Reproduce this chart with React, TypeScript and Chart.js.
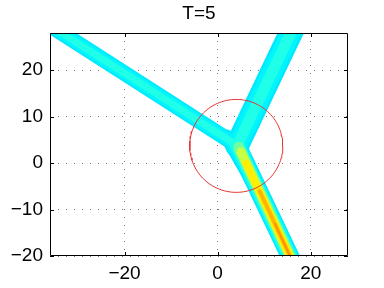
import React, { useEffect, useRef } from "react";
import { Chart, registerables } from "chart.js";

Chart.register(...registerables);

// ---------- data ----------
const TITLE = "T=5";
const X_RANGE = [-36, 28];
const Y_RANGE = [-20, 28];
const X_TICKS = [-20, 0, 20];
const Y_TICKS = [-20, -10, 0, 10, 20];

// the three arms of the Y-shaped wave meet at the junction
const JUNCTION = { x: 4.2, y: 3.8 };
const LEFT_ARM_END = { x: -40, y: 32.2 };
const UPPER_ARM_END = { x: 17.6, y: 32 };
const LOWER_ARM_END = { x: 17.4, y: -24 };
// the wider stem where the lower arm leaves the junction
const STEM_TOP = { x: 1.95, y: 5.7 };
const STEM_BOTTOM = { x: 6.9, y: -2.9 };
// rounded fill in the corner between the left and upper arms
const FILLET_END = { x: 3.3, y: 5.1 };

// where each amplitude level begins along each arm (level 0 = outermost contour)
const LEFT_LEVEL_STARTS = [JUNCTION, JUNCTION, JUNCTION];
const UPPER_LEVEL_STARTS = [JUNCTION, JUNCTION, JUNCTION];
const LOWER_LEVEL_STARTS = [
  JUNCTION,
  JUNCTION,
  JUNCTION,
  { x: 4.55, y: 3.4 },
  { x: 5.0, y: 2.4 },
  { x: 6.1, y: 0 },
  { x: 9.0, y: -6 },
  { x: 12.3, y: -13 },
];

// red reference circle
const CIRCLE_CENTER = { x: 4, y: 3.7 };
const CIRCLE_RADIUS = 10;

// ---------- styles ----------
const FONT = "'Liberation Sans', Helvetica, Arial, sans-serif";
const LEVEL_COLORS = [
  "#00e8ff",
  "#00f6fc",
  "#20ffe8",
  "#70ffa0",
  "#c8ff40",
  "#ffee00",
  "#ffb400",
  "#ff8c00",
];
const LEFT_WIDTHS = [15.5, 12, 7];
const UPPER_WIDTHS = [24, 19, 11];
const LOWER_WIDTHS = [18.5, 16, 13.5, 11, 9, 7, 4, 1.6];
const STEM_WIDTHS = [14, 9];
const FILLET_WIDTHS = [18, 12];

const fmt = (v: number) => (v < 0 ? "\u2212" + Math.abs(v) : String(v));

function lineDs(a: any, b: any, level: number, width: number) {
  return {
    data: [a, b],
    showLine: true,
    borderColor: LEVEL_COLORS[level],
    borderWidth: width,
    borderCapStyle: "round" as const,
    borderJoinStyle: "round" as const,
    pointRadius: 0,
    pointHoverRadius: 0,
    fill: false,
    tension: 0,
    clip: 0,
    order: 100 - level * 10,
  };
}

function armDatasets(starts: { x: number; y: number }[], end: { x: number; y: number }, widths: number[]) {
  return starts.map((s, i) => lineDs(end, s, i, widths[i]));
}

function circlePoints() {
  const pts: { x: number; y: number }[] = [];
  const n = 120;
  for (let k = 0; k <= n; k++) {
    const t = (2 * Math.PI * k) / n;
    pts.push({
      x: CIRCLE_CENTER.x + CIRCLE_RADIUS * Math.cos(t),
      y: CIRCLE_CENTER.y + CIRCLE_RADIUS * Math.sin(t),
    });
  }
  return pts;
}

const boxPlugin = {
  id: "matlabBox",
  afterDraw(chart: any) {
    const { ctx, chartArea: a, scales } = chart;
    ctx.save();
    ctx.strokeStyle = "#000";
    ctx.lineWidth = 1;
    ctx.beginPath();
    ctx.rect(Math.round(a.left) + 0.5, Math.round(a.top) + 0.5, Math.round(a.right - a.left) - 1, Math.round(a.bottom - a.top) - 1);
    ctx.stroke();
    const L = 4;
    ctx.beginPath();
    X_TICKS.forEach((v) => {
      const px = Math.round(scales.x.getPixelForValue(v)) + 0.5;
      ctx.moveTo(px, a.bottom);
      ctx.lineTo(px, a.bottom - L);
      ctx.moveTo(px, a.top);
      ctx.lineTo(px, a.top + L);
    });
    Y_TICKS.forEach((v) => {
      const py = Math.round(scales.y.getPixelForValue(v)) + 0.5;
      ctx.moveTo(a.left, py);
      ctx.lineTo(a.left + L, py);
      ctx.moveTo(a.right, py);
      ctx.lineTo(a.right - L, py);
    });
    ctx.stroke();
    ctx.restore();
  },
};

export default function App() {
  const ref = useRef<HTMLCanvasElement | null>(null);

  useEffect(() => {
    if (!ref.current) return;
    const datasets: any[] = [
      ...armDatasets(LEFT_LEVEL_STARTS, LEFT_ARM_END, LEFT_WIDTHS),
      ...armDatasets(UPPER_LEVEL_STARTS, UPPER_ARM_END, UPPER_WIDTHS),
      ...armDatasets(LOWER_LEVEL_STARTS, LOWER_ARM_END, LOWER_WIDTHS),
      ...STEM_WIDTHS.map((w, i) => lineDs(STEM_TOP, STEM_BOTTOM, i, w)),
      ...FILLET_WIDTHS.map((w, i) => lineDs(JUNCTION, FILLET_END, i, w)),
      {
        data: circlePoints(),
        showLine: true,
        borderColor: "rgb(228,50,50)",
        borderWidth: 1,
        pointRadius: 0,
        pointHoverRadius: 0,
        fill: false,
        tension: 0,
        clip: 0,
        order: 0,
      },
    ];

    const chart = new Chart(ref.current, {
      type: "scatter",
      data: { datasets },
      plugins: [boxPlugin],
      options: {
        animation: false,
        responsive: false,
        events: [],
        layout: { padding: { left: 0, right: 36, top: 0, bottom: 0 } },
        plugins: {
          legend: { display: false },
          tooltip: { enabled: false },
          title: {
            display: true,
            text: TITLE,
            color: "#000",
            fullSize: false,
            font: { family: FONT, size: 19, weight: "normal" },
            padding: { top: 2.6, bottom: 7.6 },
          },
        },
        scales: {
          x: {
            type: "linear",
            min: X_RANGE[0],
            max: X_RANGE[1],
            afterBuildTicks: (s: any) => {
              s.ticks = X_TICKS.map((v) => ({ value: v }));
            },
            afterFit: (s: any) => {
              s.height = 32;
            },
            grid: { color: "#777", lineWidth: 1, drawTicks: false },
            border: { display: false, dash: [1, 7] },
            ticks: {
              color: "#000",
              padding: 6,
              font: { family: FONT, size: 19 },
              callback: (v: any) => fmt(Number(v)),
              maxRotation: 0,
              autoSkip: false,
            },
          },
          y: {
            type: "linear",
            min: Y_RANGE[0],
            max: Y_RANGE[1],
            afterBuildTicks: (s: any) => {
              s.ticks = Y_TICKS.map((v) => ({ value: v }));
            },
            afterFit: (s: any) => {
              s.width = 50;
            },
            grid: { color: "#777", lineWidth: 1, drawTicks: false },
            border: { display: false, dash: [1, 7] },
            ticks: {
              color: "#000",
              padding: 7,
              font: { family: FONT, size: 19 },
              callback: (v: any) => fmt(Number(v)),
              autoSkip: false,
            },
          },
        },
      },
    } as any);
    return () => chart.destroy();
  }, []);

  return (
    <div style={{ position: "absolute", left: 0, top: 0, width: 384, height: 288, background: "#fff" }}>
      <canvas ref={ref} width={384} height={288} style={{ width: 384, height: 288 }} />
    </div>
  );
}
